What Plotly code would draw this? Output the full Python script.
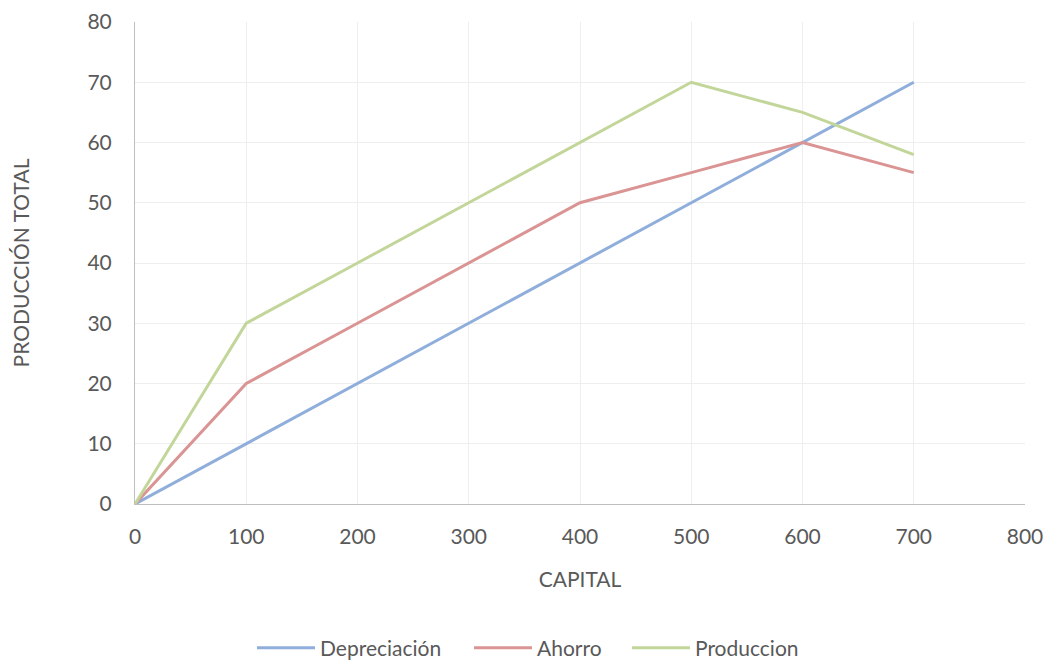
import plotly.graph_objects as go

capital = [0, 100, 200, 300, 400, 500, 600, 700]
depreciacion = [0, 10, 20, 30, 40, 50, 60, 70]
ahorro = [0, 20, 30, 40, 50, 55, 60, 55]
produccion = [0, 30, 40, 50, 60, 70, 65, 58]

series = [
    ("Depreciación", depreciacion, "#8FAEDB", "legend", 252),
    ("Ahorro", ahorro, "#DA9493", "legend2", 469),
    ("Produccion", produccion, "#C3D69A", "legend3", 627),
]

FAM = "Lato, Carlito, Open Sans, sans-serif"
TXT = "#595959"
SZ = 21
W, H = 1047, 660

fig = go.Figure()
legends = {}
for name, vals, col, lg, lx in series:
    fig.add_trace(go.Scatter(x=capital, y=vals, mode="lines", name=name, legend=lg,
                             line=dict(color=col, width=3)))
    legends[lg] = dict(orientation="h", xref="container", x=lx / W, xanchor="left",
                       yref="container", y=12 / H, yanchor="middle",
                       font=dict(family=FAM, size=SZ, color=TXT), itemwidth=58,
                       bgcolor="rgba(0,0,0,0)")

fig.update_layout(
    width=W, height=H,
    margin=dict(l=135, r=22, t=22, b=156),
    paper_bgcolor="white", plot_bgcolor="white",
    font=dict(family=FAM, size=SZ, color=TXT),
    showlegend=True,
    xaxis=dict(range=[0, 800], dtick=100, showgrid=True, gridcolor="#EEEEEE", gridwidth=1,
               showline=True, linecolor="#BFBFBF", linewidth=1, zeroline=False,
               ticks="", ticklabelstandoff=14, automargin=False,
               title=dict(text="CAPITAL", font=dict(family=FAM, size=SZ, color=TXT), standoff=25)),
    yaxis=dict(range=[0, 80], dtick=10, showgrid=True, gridcolor="#EEEEEE", gridwidth=1,
               showline=True, linecolor="#BFBFBF", linewidth=1, zeroline=False,
               ticks="", ticklabelstandoff=18, automargin=False,
               title=dict(text="PRODUCCIÓN TOTAL", font=dict(family=FAM, size=SZ, color=TXT), standoff=52)),
)
fig.update_layout(**legends)

fig.write_html("out.html", config={"displayModeBar": False},
               post_script="document.body.style.margin='0';document.body.style.overflow='hidden';")
